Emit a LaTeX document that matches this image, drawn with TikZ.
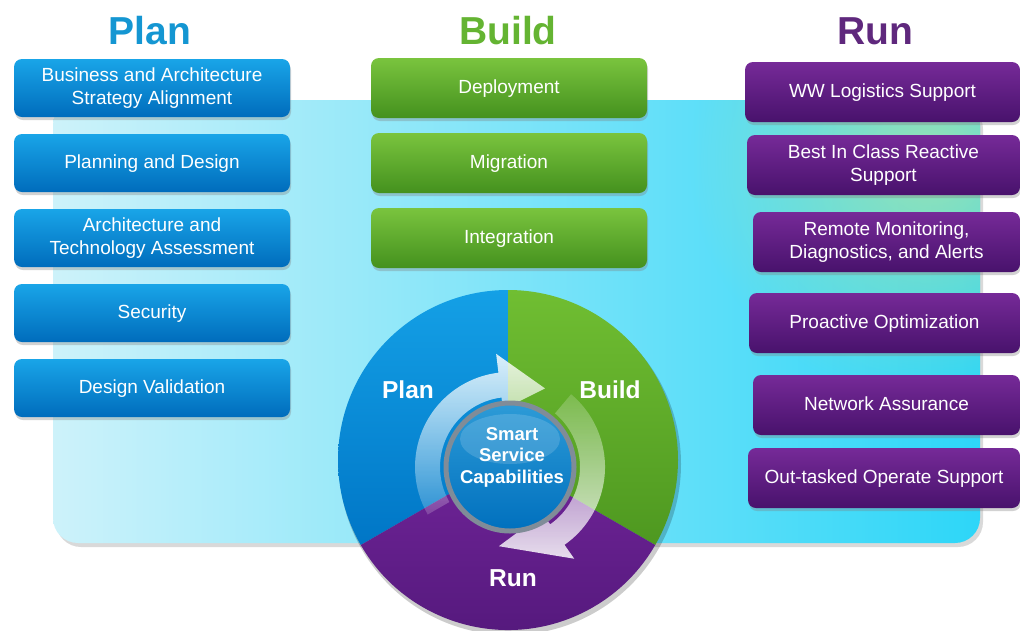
\documentclass[tikz,border=0pt]{standalone}
\usepackage{fontspec}
\setmainfont{Liberation Sans}
\usetikzlibrary{shadows,fadings}
\definecolor{plantitle}{RGB}{20,150,210}
\definecolor{buildtitle}{RGB}{100,180,50}
\definecolor{runtitle}{RGB}{95,40,125}
\definecolor{plantop}{RGB}{25,165,232}
\definecolor{planbot}{RGB}{0,108,188}
\definecolor{buildtop}{RGB}{122,196,62}
\definecolor{buildbot}{RGB}{68,145,30}
\definecolor{runtop}{RGB}{118,42,152}
\definecolor{runbot}{RGB}{72,18,108}
\definecolor{segplana}{RGB}{20,160,230}
\definecolor{segplanb}{RGB}{0,118,198}
\definecolor{segbuilda}{RGB}{112,190,50}
\definecolor{segbuildb}{RGB}{78,152,32}
\definecolor{segruna}{RGB}{112,36,152}
\definecolor{segrunb}{RGB}{82,24,122}
\definecolor{panelleft}{RGB}{205,242,250}
\definecolor{panelmid}{RGB}{125,226,250}
\definecolor{panelright}{RGB}{45,214,248}
\definecolor{paneltint}{RGB}{168,228,168}
\definecolor{innertop}{RGB}{45,155,215}
\definecolor{innerbot}{RGB}{0,112,190}
\definecolor{rimgray}{RGB}{128,140,152}
\tikzfading[name=glow, inner color=transparent!0, outer color=transparent!100]
\tikzfading[name=tailsouth, top color=transparent!0, bottom color=transparent!80]
\tikzfading[name=tailnorth, bottom color=transparent!0, top color=transparent!80]
\begin{document}
\begin{tikzpicture}[x=1pt,y=1pt,
    box/.style={rounded corners=8pt, minimum width=276pt, minimum height=58pt, inner sep=2pt,
      align=center, text=white, font=\fontsize{19}{22.5}\selectfont,
      drop shadow={opacity=.35, shadow xshift=1pt, shadow yshift=-3pt}},
    planbox/.style={box, top color=plantop, bottom color=planbot},
    buildbox/.style={box, minimum height=60pt, top color=buildtop, bottom color=buildbot},
    runbox/.style={box, minimum height=60pt, top color=runtop, bottom color=runbot},
    title/.style={font=\fontsize{39}{44}\selectfont\bfseries},
    seglabel/.style={text=white, font=\fontsize{24.5}{28}\selectfont\bfseries},
    coretext/.style={text=white, align=center, font=\fontsize{18.5}{21.5}\selectfont\bfseries}]
  \path[use as bounding box] (0,0) rectangle (1020,-630);
  \clip (0,0) rectangle (1020,-630);
  \fill[white] (0,0) rectangle (1020,-630);
  \fill[black, opacity=.15, rounded corners=25pt] (56,-104) rectangle (983,-547);
  \shade[rounded corners=25pt, left color=panelleft, middle color=panelmid, right color=panelright]
    (53,-100) rectangle (980,-543);
  \begin{scope}
    \clip[rounded corners=25pt] (53,-100) rectangle (980,-543);
    \fill[paneltint, opacity=.85, path fading=glow] (930,-160) circle[radius=240];
  \end{scope}
  \node[title, text=plantitle] (tplan) at (150,-31) {Plan};
  \node[title, text=buildtitle] (tbuild) at (508,-31) {Build};
  \node[title, text=runtitle] (trun) at (875,-31) {Run};
  \node[planbox] (p1) at (152,-88) {Business and Architecture\\Strategy Alignment};
  \node[planbox, text depth=2pt] (p2) at (152,-163) {Planning and Design};
  \node[planbox] (p3) at (152,-238) {Architecture and\\Technology Assessment};
  \node[planbox, text depth=2pt] (p4) at (152,-313) {Security};
  \node[planbox, text depth=2pt] (p5) at (152,-388) {Design Validation};
  \node[buildbox, text depth=2pt] (b1) at (509,-88) {Deployment};
  \node[buildbox, text depth=2pt] (b2) at (509,-163) {Migration};
  \node[buildbox, text depth=2pt] (b3) at (509,-238) {Integration};
  \node[runbox, text depth=2pt, minimum width=275pt] (r1) at (882.5,-92) {WW Logistics Support};
  \node[runbox, minimum width=273pt] (r2) at (883.5,-165) {Best In Class Reactive\\Support};
  \node[runbox, minimum width=267pt] (r3) at (886.5,-242) {Remote Monitoring,\\Diagnostics, and Alerts};
  \node[runbox, text depth=2pt, minimum width=271pt] (r4) at (884.5,-323) {Proactive Optimization};
  \node[runbox, text depth=2pt, minimum width=267pt] (r5) at (886.5,-405) {Network Assurance};
  \node[runbox, text depth=2pt, minimum width=272pt] (r6) at (884,-478) {Out-tasked Operate Support};
  \begin{scope}[shift={(508,-460)}]
    \fill[black, opacity=.2] (2,-4) circle[radius=171];
    \shade[top color=segplana, bottom color=segplanb]
      (0,0) -- (90:170) arc[start angle=90, end angle=210, radius=170] -- cycle;
    \shade[top color=segbuilda, bottom color=segbuildb]
      (0,0) -- (90:170) arc[start angle=90, end angle=-30, radius=170] -- cycle;
    \shade[top color=segruna, bottom color=segrunb]
      (0,0) -- (210:170) arc[start angle=210, end angle=330, radius=170] -- cycle;
  \end{scope}
  \node[seglabel] (lplan) at (408,-390) {Plan};
  \node[seglabel] (lbuild) at (610,-390) {Build};
  \node[seglabel] (lrun) at (513,-578) {Run};
  \begin{scope}[shift={(510,-467)}]
    \fill[white, fill opacity=.85, path fading=tailsouth]
      (210:70) arc[start angle=210, end angle=97, radius=70] -- (97:58) -- (66:86)
      -- (97:114) -- (97:95) arc[start angle=97, end angle=210, radius=95] -- cycle;
    \fill[white, fill opacity=.85, path fading=tailnorth]
      (50:95) arc[start angle=50, end angle=-55, radius=95] -- (-55:112) -- (-98:80)
      -- (-55:57) -- (-55:70) arc[start angle=-55, end angle=50, radius=70] -- cycle;
    \shadedraw[top color=innertop, bottom color=innerbot, draw=rimgray, line width=5pt]
      (0,0) circle[radius=64];
    \fill[white, opacity=.15] (0,28) ellipse[x radius=50, y radius=25];
    \node[coretext] (core) at (2,10) {Smart\\Service\\Capabilities};
  \end{scope}
\end{tikzpicture}
\end{document}
